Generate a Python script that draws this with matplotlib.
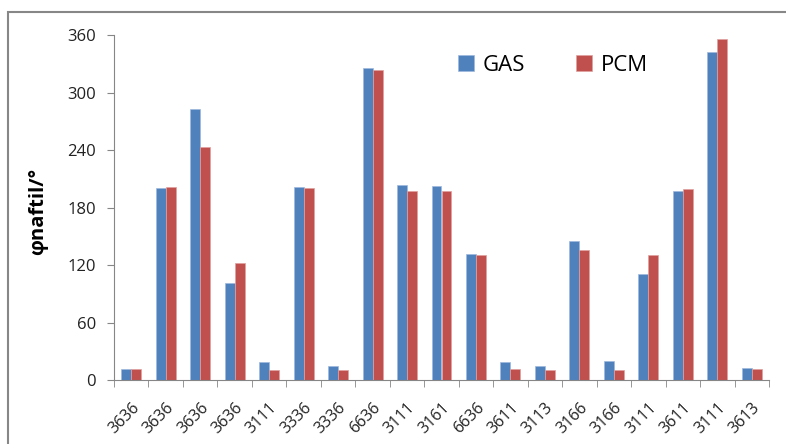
import numpy as np
import matplotlib.pyplot as plt
from matplotlib.patches import Rectangle

labels = ["3636", "3636", "3636", "3636", "3111", "3336", "3336", "6636", "3111", "3161",
          "6636", "3611", "3113", "3166", "3166", "3111", "3611", "3111", "3613"]
gas = [11.5, 200, 282.5, 101, 19, 201, 14.6, 326, 203, 202.5,
       132, 18.4, 14.6, 145.4, 19.5, 110.3, 197, 342, 12.9]
pcm = [11.5, 201, 243.5, 122, 10.5, 200, 10.5, 323, 197, 197,
       130, 11, 10.4, 135.3, 10.4, 130, 199, 356, 11]
yticks = [0, 60, 120, 180, 240, 300, 360]

plt.rcParams['font.family'] = ['Open Sans', 'DejaVu Sans']

fig = plt.figure(figsize=(7.86, 4.44), dpi=100)
# outer chart frame
fig.patches.append(Rectangle((8 / 786, -0.1), 1.2, 1 - 12 / 444 + 0.1,
                             transform=fig.transFigure, fill=False,
                             edgecolor='#878787', linewidth=1.5))
ax = fig.add_axes([114 / 786, 64 / 444, 655 / 786, 345 / 444])

x = np.arange(len(labels))
w = 0.29
ax.bar(x - w / 2, gas, w, color='#4F81BD', edgecolor='#9DB8DC', linewidth=0.5, label='GAS')
ax.bar(x + w / 2, pcm, w, color='#C0504D', edgecolor='#E0A09E', linewidth=0.5, label='PCM')

ax.set_xlim(-0.5, len(labels) - 0.5)
ax.set_ylim(0, 360)
ax.set_yticks(yticks)
ax.tick_params(axis='y', length=5, color='#868686', labelsize=12, pad=8,
               labelcolor='#222222')

ax.set_xticks(x)
ax.set_xticklabels(labels, rotation=45, ha='right', va='top', rotation_mode='anchor',
                   fontsize=11.5, color='#222222')
ax.set_xticks(np.arange(-0.5, len(labels)), minor=True)
ax.tick_params(axis='x', which='major', length=0, pad=14)
ax.tick_params(axis='x', which='minor', length=5, color='#868686')

for s in ['top', 'right']:
    ax.spines[s].set_visible(False)
for s in ['left', 'bottom']:
    ax.spines[s].set_color('#868686')

ax.set_ylabel('φnaftil/°', fontweight='bold', fontsize=14.5, labelpad=10)
ax.yaxis.set_label_coords(-0.1, 0.49)

ax.legend(loc='upper left', bbox_to_anchor=(0.495, 1.0), ncol=2, frameon=False,
          fontsize=16, handlelength=0.7, handleheight=0.7, columnspacing=2.3,
          handletextpad=0.4)

fig.savefig('out.png', dpi=100)
